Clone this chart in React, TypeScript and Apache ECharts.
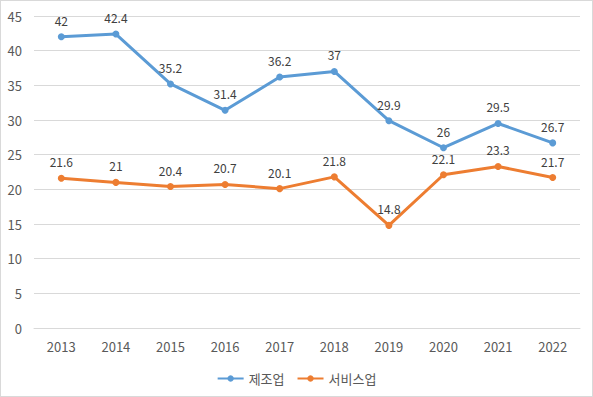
import React, { useEffect, useRef } from "react";
import * as echarts from "echarts";

const years = ["2013", "2014", "2015", "2016", "2017", "2018", "2019", "2020", "2021", "2022"];
const manufacturing = [42, 42.4, 35.2, 31.4, 36.2, 37, 29.9, 26, 29.5, 26.7];
const services = [21.6, 21, 20.4, 20.7, 20.1, 21.8, 14.8, 22.1, 23.3, 21.7];
const seriesNames = ["제조업", "서비스업"];

const font = "'Noto Sans CJK KR', 'Malgun Gothic', sans-serif";

export default function App() {
  const ref = useRef<HTMLDivElement>(null);
  useEffect(() => {
    if (!ref.current) return;
    const chart = echarts.init(ref.current, undefined, { renderer: "svg" });
    const labelStyle = {
      show: true,
      position: "top" as const,
      distance: 7,
      color: "#404040",
      fontSize: 12,
      fontFamily: font,
    };
    chart.setOption({
      animation: false,
      backgroundColor: "#ffffff",
      grid: { left: 33, right: 12, top: 15, bottom: 68 },
      legend: {
        bottom: 6,
        left: "center",
        itemWidth: 26,
        itemHeight: 8,
        itemGap: 12,
        textStyle: { color: "#595959", fontSize: 13, fontFamily: font },
        data: seriesNames,
      },
      xAxis: {
        type: "category",
        data: years,
        boundaryGap: true,
        axisLine: { show: true, lineStyle: { color: "#d9d9d9" } },
        axisTick: { show: false },
        axisLabel: { color: "#595959", fontSize: 13, margin: 12, fontFamily: font },
      },
      yAxis: {
        type: "value",
        min: 0,
        max: 45,
        interval: 5,
        axisLine: { show: false },
        axisTick: { show: false },
        axisLabel: { color: "#595959", fontSize: 13, margin: 12, fontFamily: font },
        splitLine: { lineStyle: { color: "#d9d9d9", width: 1 } },
      },
      series: [
        {
          name: seriesNames[0],
          type: "line",
          data: manufacturing,
          color: "#5b9bd5",
          lineStyle: { width: 3 },
          symbol: "circle",
          symbolSize: 7,
          label: labelStyle,
        },
        {
          name: seriesNames[1],
          type: "line",
          data: services,
          color: "#ed7d31",
          lineStyle: { width: 3 },
          symbol: "circle",
          symbolSize: 7,
          label: labelStyle,
        },
      ],
    });
    return () => chart.dispose();
  }, []);
  return (
    <div
      ref={ref}
      style={{
        position: "absolute",
        left: 0,
        top: 0,
        width: 593,
        height: 397,
        boxSizing: "border-box",
        border: "1px solid #d9d9d9",
      }}
    />
  );
}
